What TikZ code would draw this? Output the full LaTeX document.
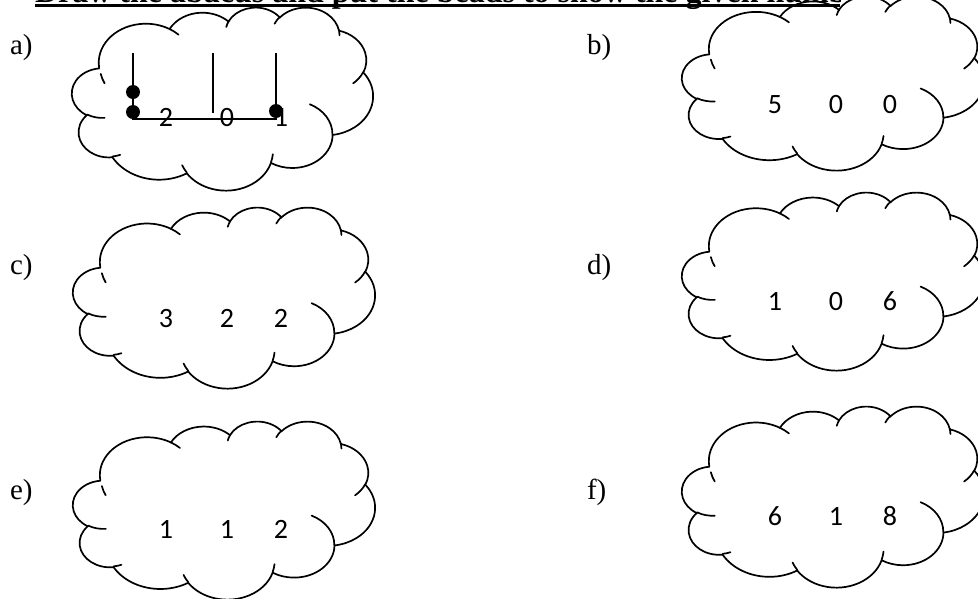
\documentclass[tikz,border=0pt]{standalone}
\usepackage{fontspec}
\setmainfont{Liberation Serif}
\newfontfamily\digitfont{Carlito}

% one arc of the cloud outline: x radius, y radius, start angle, sweep
\newcommand\carc[4]{arc[x radius=#1pt, y radius=#2pt,
    start angle={atan2(#1*sin(#3),#2*cos(#3))},
    delta angle={mod(atan2(#1*sin((#3)+(#4)),#2*cos((#3)+(#4)))-atan2(#1*sin(#3),#2*cos(#3))+720,360)}]}
% same, swept backwards
\newcommand\carcn[4]{arc[x radius=#1pt, y radius=#2pt,
    start angle={atan2(#1*sin(#3),#2*cos(#3))},
    delta angle={0-mod(atan2(#1*sin(#3),#2*cos(#3))-atan2(#1*sin((#3)+(#4)),#2*cos((#3)+(#4)))+720,360)}]}

% cloud in the box x0, y0, width, height
\newcommand\cloud[4]{%
    \begin{scope}[shift={(#1,#2)}, xscale=#3/432, yscale=#4/432]
        \draw[cloudline] (39.00,143.70)
            \carc{67.53}{91.90}{-190.4875}{123.7805}
            \carc{53.33}{72.67}{-144.1024}{89.9452}
            \carc{43.65}{59.45}{-145.8079}{99.7230}
            \carc{48.57}{65.95}{-130.9861}{117.2417}
            \carc{53.33}{72.73}{-78.7089}{109.0269}
            \carc{67.75}{92.20}{-46.2673}{130.2690}
            \carc{57.85}{78.67}{0.6250}{114.0333}
            \carc{67.52}{92.15}{22.4516}{115.1726}
            \carc{77.20}{105.43}{66.2426}{75.7110}
            \carc{43.60}{59.18}{-274.9421}{146.7356}
            \carc{43.45}{59.45}{-246.8285}{152.5189} -- cycle;
        % inner ends of the bumps
        \draw[cloudline]
            (46.93,261.77) \carc{43.45}{59.45}{86.7420}{26.4295}
            (69.28,348.99) \carc{43.60}{59.18}{73.6105}{11.4475}
            (164.78,390.90) \carc{67.52}{92.15}{137.6242}{14.0811}
            (288.27,347.51) \carc{67.52}{92.15}{6.4533}{15.9984}
            (341.29,229.54) \carc{57.85}{78.67}{-70.2924}{70.9174}
            (417.98,153.54) \carc{53.33}{72.73}{30.3180}{27.7515}
            (383.24,54.26) \carc{48.57}{65.95}{-13.7443}{14.8589}
            (290.78,39.52) \carc{48.57}{65.95}{-149.1815}{18.1954}
            (221.41,47.20) \carc{43.65}{59.45}{-163.4943}{17.6864}
            (140.00,51.92) \carc{67.53}{91.90}{-66.7070}{12.3194}
            (41.27,157.89) \carcn{67.53}{91.90}{164.9046}{-18.3896};
    \end{scope}}

\begin{document}
\begin{tikzpicture}[x=1pt, y=1pt, yscale=-1,
    inner sep=0pt, outer sep=0pt,
    cloudline/.style={line width=1.7pt, line cap=round},
    rod/.style={line width=1.4pt},
    bead/.style={circle, fill=black, minimum size=14pt},
    digit/.style={anchor=base, font=\digitfont\fontsize{28}{28}\selectfont},
    lbl/.style={anchor=base west, font=\fontsize{29}{29}\selectfont},
    heading/.style={anchor=base west, font=\bfseries\fontsize{32}{32}\selectfont},
]
    \useasboundingbox (0,0) rectangle (978,598);

    % Heading, cut at the top of the page
    \begin{scope}
        \clip (0,-40) rectangle (840,10);
        \node[heading] (title) at (35,2) {Draw the abacus and put the beads to show the given numbers};
    \end{scope}
    \coordinate (ul1) at (35,5);
    \coordinate (ul2) at (840,5);
    \draw[line width=3pt] (ul1) -- (ul2);

    % Clouds
    \cloud{72}{7}{301}{183}
    \cloud{682}{-4}{302}{174}
    \cloud{73}{207}{302}{181}
    \cloud{682}{192}{302}{178}
    \cloud{73}{421}{302}{178}
    \cloud{682}{406}{302}{181}

    % Labels
    \node[lbl] (la) at (10,54) {a)};
    \node[lbl] (lb) at (587,54) {b)};
    \node[lbl] (lc) at (10,274) {c)};
    \node[lbl] (ld) at (587,274) {d)};
    \node[lbl] (le) at (10,499) {e)};
    \node[lbl] (lf) at (587,499) {f)};

    % Abacus in a)
    \coordinate (r1t) at (133,53);
    \coordinate (r1b) at (133,119);
    \coordinate (r2t) at (213,53);
    \coordinate (r2b) at (213,113);
    \coordinate (r3t) at (276,53);
    \coordinate (r3b) at (276,119);
    \draw[rod] (r1t) -- (r1b) -- (r3b) -- (r3t);
    \draw[rod] (r2t) -- (r2b);
    \node[bead] (bd1) at (133,92) {};
    \node[bead] (bd2) at (133,112) {};
    \node[bead] (bd3) at (276,111) {};

    % Numbers
    \foreach \n/\dx/\y/\p/\q/\r in {a/0/126/2/0/1, b/609/113/5/0/0, c/0/327/3/2/2,
        d/609/310/1/0/6, e/0/538/1/1/2, f/609/525/6/1/8} {
        \node[digit] (\n1) at (166+\dx,\y) {\p};
        \node[digit] (\n2) at (227+\dx,\y) {\q};
        \node[digit] (\n3) at (281+\dx,\y) {\r};
    }
\end{tikzpicture}
\end{document}
